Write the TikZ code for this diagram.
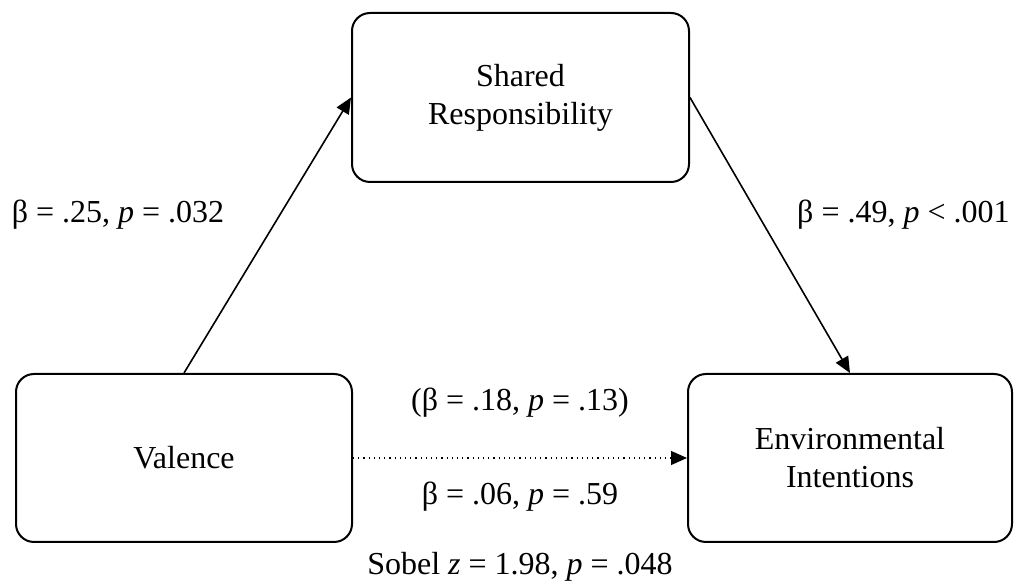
\documentclass[tikz,border=0pt]{standalone}
\usepackage{fontspec}
\setmainfont{Liberation Serif}
\usetikzlibrary{arrows.meta}
\begin{document}
\begin{tikzpicture}[x=0.5pt,y=-0.5pt,
  box/.style={draw=black, line width=1pt, rounded corners=9pt, align=center,
    inner sep=0pt, font=\fontsize{16}{19}\selectfont},
  lbl/.style={inner sep=0pt, font=\fontsize{16}{19}\selectfont},
  arr/.style={line width=0.8pt, -{Triangle[length=8pt,width=7pt]}},
  dotarr/.style={line width=0.6pt, dotted, -{Triangle[length=8pt,width=7pt]}}]
\useasboundingbox (0,0) rectangle (1014,587);
\node[box, minimum width=168.5pt, minimum height=84.5pt] (sr) at (520.5,97.5) {Shared\\Responsibility};
\node[box, minimum width=168pt, minimum height=84pt] (val) at (184,458) {Valence};
\node[box, minimum width=162pt, minimum height=84pt] (env) at (850,458) {Environmental\\Intentions};
\draw[arr] (val.north) -- (sr.west);
\draw[arr] (sr.east) -- (env.north);
\draw[dotarr] (val.east) -- (env.west);
\node[lbl] (l1) at (118,215) {β = .25, \textit{p} = .032};
\node[lbl, anchor=east] (l2) at (1010,215) {β = .49, \textit{p} < .001};
\node[lbl] (l3) at (520,403) {(β = .18, \textit{p} = .13)};
\node[lbl] (l4) at (520,497) {β = .06, \textit{p} = .59};
\node[lbl] (l5) at (520,567) {Sobel \textit{z} = 1.98, \textit{p} = .048};
\end{tikzpicture}
\end{document}
